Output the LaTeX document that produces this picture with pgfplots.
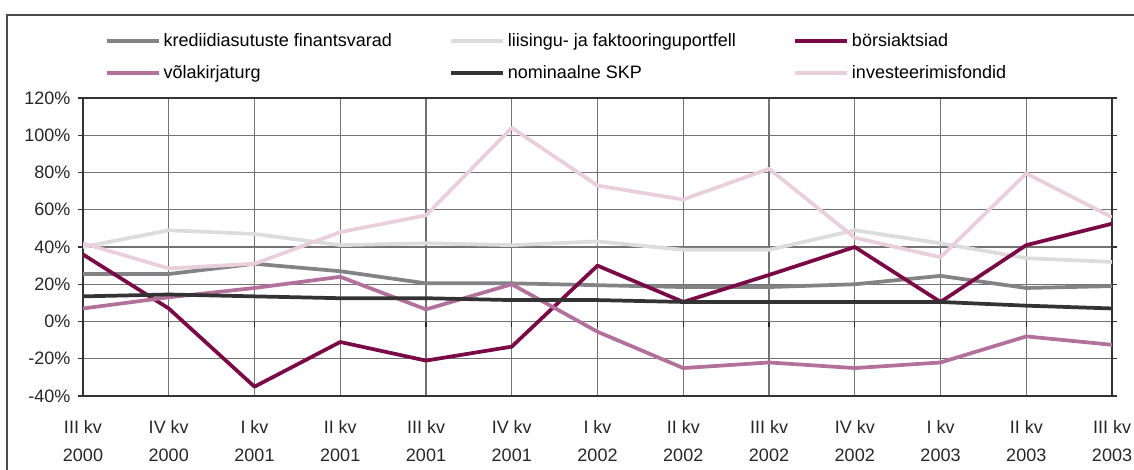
\documentclass[border=0pt]{standalone}
\usepackage{pgfplots}
\pgfplotsset{compat=1.18}
\usepackage{fontspec}
\setmainfont{Liberation Sans}
\definecolor{cKred}{HTML}{838285}
\definecolor{cLiis}{HTML}{DCDCDC}
\definecolor{cBors}{HTML}{7A0A46}
\definecolor{cVola}{HTML}{B2719A}
\definecolor{cSkp}{HTML}{333333}
\definecolor{cInv}{HTML}{E9CFDC}
\newcommand{\lb}[1]{\makebox[211.5pt][l]{#1}}
\begin{document}
\begin{tikzpicture}[x=1pt,y=1pt]
\useasboundingbox (0,0) rectangle (850.5,351.75);
\draw[color=black!70, line width=1.3pt] (5.25,-10) -- (5.25,340.5) -- (870,340.5);
\begin{axis}[
  at={(62.25pt,54.75pt)}, anchor=south west,
  scale only axis, width=771.75pt, height=223.5pt,
  xmin=0, xmax=12, ymin=-40, ymax=120,
  ytick={-40,-20,0,20,40,60,80,100,120},
  xtick={0,...,12},
  xticklabels={III kv\\2000, IV kv\\2000, I kv\\2001, II kv\\2001, III kv\\2001, IV kv\\2001, I kv\\2002, II kv\\2002, III kv\\2002, IV kv\\2002, I kv\\2003, II kv\\2003, III kv\\2003},
  yticklabel={\pgfmathprintnumber{\tick}\%},
  /pgf/number format/assume math mode=true,
  tick label style={font=\fontsize{13.5}{21}\selectfont, color=black!85},
  xticklabel style={align=center, yshift=-15pt},
  yticklabel style={xshift=-2pt},
  xtick style={draw=none},
  ytick align=outside, major tick length=4pt,
  ytick style={color=black!80, line width=0.8pt},
  grid=major,
  major grid style={color=black!55, line width=0.8pt},
  axis line style={color=black!80, line width=1.4pt},
  legend columns=3,
  legend style={at={(axis description cs:0.0204,1.235)}, anchor=north west,
    draw=none, fill=none, font=\fontsize{13.5}{15}\selectfont,
    /tikz/every even column/.append style={column sep=0pt},
    row sep=8.6pt, inner xsep=0pt},
  legend cell align=left,
  legend image code/.code={\draw[#1, line width=3.6pt] (0pt,0pt) -- (39pt,0pt);},
  every axis plot/.append style={line width=2.8pt, mark=none, line join=round},
]
\addplot[cKred] coordinates {(0,25.5) (1,25.5) (2,31) (3,27) (4,20.5) (5,20.5) (6,19.5) (7,18.5) (8,18.5) (9,20) (10,24.5) (11,18) (12,19)};
\addlegendentry{\lb{krediidiasutuste finantsvarad}}
\addplot[cLiis] coordinates {(0,40) (1,49) (2,47) (3,41) (4,42) (5,41) (6,43) (7,38.5) (8,38.5) (9,49) (10,42) (11,34) (12,32)};
\addlegendentry{\lb{liisingu- ja faktooringuportfell}}
\addplot[cBors] coordinates {(0,36) (1,7) (2,-35) (3,-11) (4,-21) (5,-13.5) (6,30) (7,10.5) (8,25) (9,40) (10,10.5) (11,41) (12,52.5)};
\addlegendentry{\lb{börsiaktsiad}}
\addplot[cVola] coordinates {(0,7) (1,13) (2,18) (3,24) (4,6.5) (5,20) (6,-5.5) (7,-25) (8,-22) (9,-25) (10,-22) (11,-8) (12,-12.5)};
\addlegendentry{\lb{võlakirjaturg}}
\addplot[cSkp] coordinates {(0,13.5) (1,14.5) (2,13.5) (3,12.5) (4,12.5) (5,11.5) (6,11.5) (7,10.5) (8,10.5) (9,10.5) (10,10.5) (11,8.5) (12,7)};
\addlegendentry{\lb{nominaalne SKP}}
\addplot[cInv] coordinates {(0,42) (1,28.5) (2,31) (3,48) (4,57) (5,104) (6,73) (7,65.5) (8,82) (9,45) (10,34.5) (11,79.5) (12,56)};
\addlegendentry{\lb{investeerimisfondid}}
\pgfplotsinvokeforeach{0,...,12}{\draw[color=black!85, line width=0.8pt] (axis cs:#1,0) -- ++(0pt,-4pt);}
\end{axis}
\end{tikzpicture}
\end{document}
